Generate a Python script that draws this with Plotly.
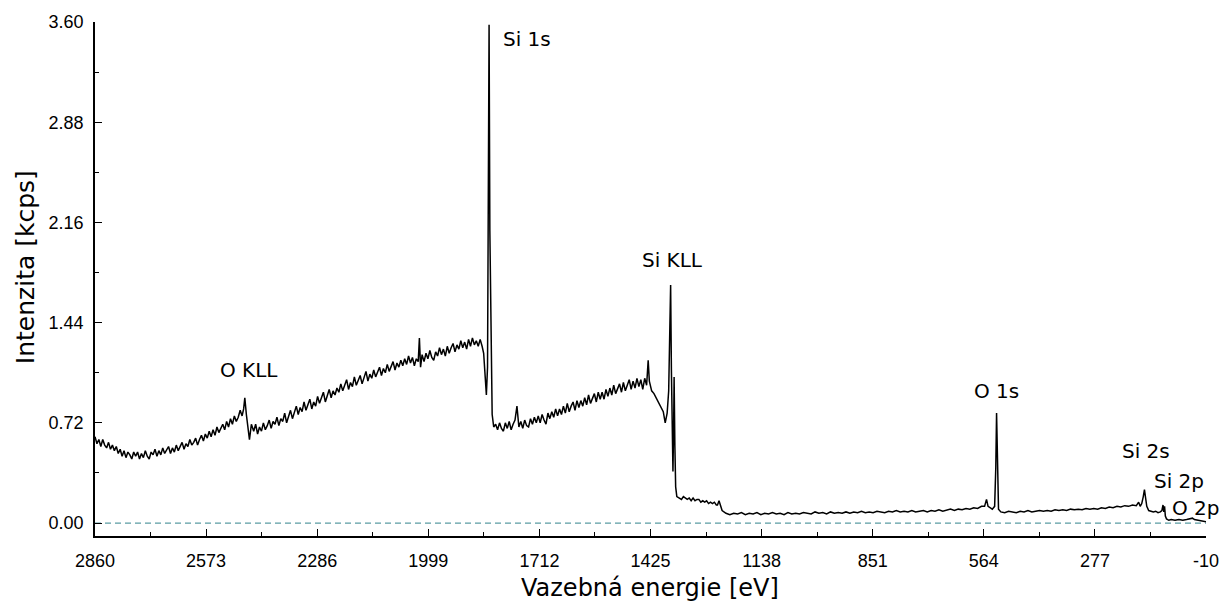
import plotly.graph_objects as go

# ---- spectrum data (binding energy [eV], intensity [kcps]) ----
# energy grids of the instrument scan (uniform 5 eV / 10 eV steps) and the read intensities
e_bg1 = list(range(2860, 2479, -5))          # 2860 .. 2480
i_bg1 = [0.62, 0.57, 0.60, 0.55, 0.60, 0.56, 0.54, 0.58, 0.53, 0.56, 0.52,
         0.55, 0.50, 0.53, 0.48, 0.52, 0.47, 0.51, 0.49, 0.46, 0.51, 0.48,
         0.51, 0.46, 0.50, 0.47, 0.52, 0.48, 0.46, 0.51, 0.49, 0.53, 0.48,
         0.52, 0.49, 0.54, 0.50, 0.53, 0.55, 0.50, 0.54, 0.51, 0.56, 0.52,
         0.55, 0.58, 0.53, 0.57, 0.55, 0.60, 0.56, 0.58, 0.61, 0.56, 0.60,
         0.63, 0.59, 0.64, 0.61, 0.66, 0.62, 0.67, 0.63, 0.69, 0.65, 0.68,
         0.71, 0.67, 0.73, 0.69, 0.75, 0.71, 0.77, 0.73, 0.76, 0.81, 0.77]

e_okll = [2476, 2473, 2469, 2465, 2461, 2456]
i_okll = [0.82, 0.90, 0.78, 0.70, 0.60, 0.71]

e_bg2 = list(range(2450, 2024, -5))          # 2450 .. 2025
i_bg2 = [0.66, 0.71, 0.64, 0.69, 0.66, 0.72, 0.67, 0.70, 0.74, 0.68, 0.73,
         0.71, 0.76, 0.70, 0.75, 0.73, 0.79, 0.72, 0.77, 0.81, 0.75, 0.79,
         0.84, 0.78, 0.83, 0.80, 0.87, 0.81, 0.85, 0.89, 0.82, 0.87, 0.84,
         0.91, 0.86, 0.90, 0.94, 0.87, 0.92, 0.96, 0.90, 0.95, 0.92, 0.97,
         0.94, 1.00, 0.95, 0.99, 1.03, 0.96, 1.01, 0.98, 1.05, 0.99, 1.03,
         1.06, 1.00, 1.05, 1.09, 1.02, 1.07, 1.04, 1.10, 1.05, 1.08, 1.12,
         1.06, 1.11, 1.08, 1.14, 1.09, 1.12, 1.16, 1.10, 1.15, 1.12, 1.17,
         1.13, 1.18, 1.14, 1.20, 1.15, 1.19, 1.13, 1.18, 1.16]

e_spike = [2022, 2019]
i_spike = [1.33, 1.12]

e_bg3 = list(range(2015, 1864, -5))          # 2015 .. 1865
i_bg3 = [1.21, 1.16, 1.22, 1.18, 1.24, 1.19, 1.17, 1.23, 1.20, 1.26, 1.21,
         1.25, 1.20, 1.27, 1.22, 1.26, 1.29, 1.23, 1.28, 1.25, 1.31, 1.26,
         1.30, 1.25, 1.32, 1.27, 1.33, 1.28, 1.31, 1.27, 1.32]

e_si1s = [1860, 1856, 1852, 1849, 1846, 1844, 1842, 1840, 1838, 1836, 1834, 1830]
i_si1s = [1.27, 1.22, 1.05, 0.92, 1.12, 2.40, 3.58, 2.10, 1.59, 1.20, 0.78, 0.69]

e_mid = list(range(1825, 1434, -5))          # 1825 .. 1435
i_mid = [0.71, 0.67, 0.72, 0.68, 0.66, 0.72, 0.68, 0.73, 0.67, 0.71, 0.74,
         0.84, 0.69, 0.73, 0.68, 0.74, 0.70, 0.69, 0.75, 0.71, 0.76, 0.72,
         0.77, 0.72, 0.78, 0.74, 0.71, 0.79, 0.75, 0.80, 0.76, 0.82, 0.77,
         0.82, 0.78, 0.84, 0.79, 0.86, 0.80, 0.84, 0.87, 0.81, 0.88, 0.83,
         0.88, 0.84, 0.90, 0.85, 0.92, 0.86, 0.90, 0.93, 0.87, 0.94, 0.89,
         0.94, 0.89, 0.96, 0.91, 0.97, 0.92, 0.99, 0.93, 0.97, 1.00, 0.94,
         1.01, 0.95, 0.99, 1.03, 0.96, 1.02, 0.97, 1.04, 0.98, 1.03, 0.96, 1.04, 0.99]

e_sikll = [1431, 1428, 1422, 1416, 1410, 1404, 1398, 1392, 1387, 1382,
           1378, 1375, 1373, 1371, 1369, 1367, 1365, 1364, 1362, 1360,
           1357]
i_sikll = [1.17, 1.02, 0.95, 0.93, 0.90, 0.86, 0.84, 0.80, 0.72, 0.79,
           0.95, 1.30, 1.71, 1.10, 0.60, 0.37, 0.75, 1.05, 0.55, 0.26,
           0.19]

e_low = [1350, 1345, 1340, 1335, 1330, 1325, 1320, 1315, 1310, 1305,
         1300, 1295, 1290, 1285, 1280, 1275, 1270, 1265, 1260, 1255,
         1252, 1248, 1244, 1240, 1230, 1220, 1210, 1200, 1190, 1180,
         1170, 1160, 1150, 1140, 1130, 1120, 1110, 1100, 1090, 1080,
         1070, 1060, 1050, 1040, 1030, 1020, 1010, 1000, 990, 980,
         970, 960, 950, 940, 930, 920, 910, 900, 890, 880,
         870, 860, 850, 840, 830, 820, 810, 800, 790, 780,
         770, 760, 750, 740, 730, 720, 710, 700, 690, 680,
         670, 660, 650, 640, 630, 620, 610, 600, 590, 580,
         570, 562]
i_low = [0.18, 0.17, 0.19, 0.18, 0.17, 0.18, 0.16, 0.18, 0.16, 0.17,
         0.17, 0.15, 0.16, 0.15, 0.16, 0.14, 0.15, 0.14, 0.15, 0.13,
         0.13, 0.16, 0.12, 0.09, 0.07, 0.06, 0.07, 0.065, 0.075, 0.06,
         0.07, 0.065, 0.075, 0.06, 0.07, 0.065, 0.075, 0.065, 0.07, 0.06,
         0.075, 0.065, 0.07, 0.065, 0.075, 0.07, 0.065, 0.08, 0.07, 0.075,
         0.065, 0.08, 0.07, 0.075, 0.07, 0.08, 0.07, 0.08, 0.075, 0.085,
         0.075, 0.08, 0.075, 0.085, 0.08, 0.075, 0.085, 0.08, 0.09, 0.08,
         0.085, 0.08, 0.09, 0.08, 0.085, 0.09, 0.08, 0.09, 0.085, 0.095,
         0.085, 0.09, 0.10, 0.09, 0.10, 0.095, 0.105, 0.10, 0.11, 0.105,
         0.12, 0.12]

e_o1s = [557, 553, 548, 542, 536, 533, 531, 529, 526]
i_o1s = [0.17, 0.12, 0.11, 0.10, 0.12, 0.40, 0.79, 0.35, 0.10]

e_val = [520, 510, 500, 490, 480, 470, 460, 450, 440, 430,
         420, 410, 400, 390, 380, 370, 360, 350, 340, 330,
         320, 310, 300, 290, 280, 270, 260, 250, 240, 230,
         220, 210, 200, 190, 180, 170, 164, 160, 156, 152,
         149, 146, 143, 138, 132, 126, 120, 114, 108, 104,
         101, 99, 97, 95, 92, 86, 80, 70, 60, 50,
         40, 30, 25, 20, 10, 0, -10]
i_val = [0.08, 0.075, 0.085, 0.08, 0.075, 0.085, 0.08, 0.09, 0.08, 0.085,
         0.09, 0.085, 0.09, 0.085, 0.095, 0.09, 0.095, 0.09, 0.10, 0.095,
         0.10, 0.095, 0.105, 0.10, 0.105, 0.10, 0.11, 0.105, 0.115, 0.11,
         0.12, 0.115, 0.125, 0.12, 0.13, 0.125, 0.15, 0.12, 0.14, 0.19,
         0.24, 0.18, 0.12, 0.09, 0.085, 0.08, 0.085, 0.075, 0.08, 0.09,
         0.13, 0.08, 0.12, 0.05, 0.03, 0.02, 0.025, 0.02, 0.025, 0.02,
         0.025, 0.03, 0.035, 0.025, 0.02, 0.015, 0.01]

# axis ticks
x_ticks = [2860, 2573, 2286, 1999, 1712, 1425, 1138, 851, 564, 277, -10]
x_minor = [2716.5, 2429.5, 2142.5, 1855.5, 1568.5, 1281.5, 994.5, 707.5, 420.5, 133.5]
y_ticks = [0.00, 0.72, 1.44, 2.16, 2.88, 3.60]
y_minor = [0.36, 1.08, 1.80, 2.52, 3.24]

# peak labels
peak_labels = ["Si 1s", "Si KLL", "O KLL", "O 1s", "Si 2s", "Si 2p", "O 2p"]
peak_label_ev = [1744, 1367, 2462, 530, 145, 61, 16]
peak_label_kcps = [3.48, 1.89, 1.10, 0.95, 0.52, 0.30, 0.105]

segments = [(e_bg1, i_bg1), (e_okll, i_okll), (e_bg2, i_bg2), (e_spike, i_spike),
            (e_bg3, i_bg3), (e_si1s, i_si1s), (e_mid, i_mid), (e_sikll, i_sikll),
            (e_low, i_low), (e_o1s, i_o1s), (e_val, i_val)]
energy, intensity = [], []
for e, i in segments:
    assert len(e) == len(i), (e[0], len(e), len(i))
    energy += e
    intensity += i

fig = go.Figure()
fig.add_trace(go.Scatter(x=energy, y=intensity, mode="lines",
                         line=dict(color="black", width=1.5),
                         showlegend=False, hoverinfo="skip"))

fig.add_shape(type="line", xref="paper", x0=0, x1=1, yref="y", y0=0, y1=0,
              line=dict(color="#5b9ca3", width=1.2, dash="6px,4px"), layer="below")

tickfont = dict(family="Arial, Liberation Sans, sans-serif", size=18, color="black")
fig.update_xaxes(range=[2860, -10], tickmode="array", tickvals=x_ticks,
                 ticktext=[str(v) for v in x_ticks],
                 ticks="inside", ticklen=7, tickwidth=1.2, tickcolor="black",
                 minor=dict(ticks="inside", ticklen=4, tickwidth=1.2, tickcolor="black",
                            tickmode="array", tickvals=x_minor),
                 showline=True, linecolor="black", linewidth=1.5,
                 showgrid=False, zeroline=False, tickfont=tickfont,
                 ticklabelstandoff=8)
fig.update_yaxes(range=[-0.093, 3.6], tickmode="array", tickvals=y_ticks,
                 ticktext=[f"{v:.2f}" for v in y_ticks],
                 ticks="inside", ticklen=7, tickwidth=1.2, tickcolor="black",
                 minor=dict(ticks="inside", ticklen=4, tickwidth=1.2, tickcolor="black",
                            tickmode="array", tickvals=y_minor),
                 showline=True, linecolor="black", linewidth=1.5,
                 showgrid=False, zeroline=False, tickfont=tickfont,
                 ticklabelstandoff=6)

annotations = []
for txt, ex, ey in zip(peak_labels, peak_label_ev, peak_label_kcps):
    annotations.append(dict(x=ex, y=ey, xref="x", yref="y", text=txt, showarrow=False,
                            xanchor="center", yanchor="middle",
                            font=dict(family="DejaVu Sans, Verdana, sans-serif", size=20, color="black")))
annotations.append(dict(x=-0.063, y=0.523, xref="paper", yref="paper", text="Intenzita [kcps]",
                        textangle=-90, showarrow=False, xanchor="center", yanchor="middle",
                        font=dict(family="DejaVu Sans, Verdana, sans-serif", size=25, color="black")))
annotations.append(dict(x=0.4995, y=-0.1323, xref="paper", yref="paper", text="Vazebná energie [eV]",
                        showarrow=False, xanchor="center", yanchor="bottom",
                        font=dict(family="DejaVu Sans, Verdana, sans-serif", size=24, color="black")))

fig.update_layout(width=1225, height=605,
                  margin=dict(l=95, r=19, t=22, b=69, autoexpand=False),
                  paper_bgcolor="white", plot_bgcolor="white",
                  annotations=annotations, showlegend=False)

fig.write_html("out.html")
